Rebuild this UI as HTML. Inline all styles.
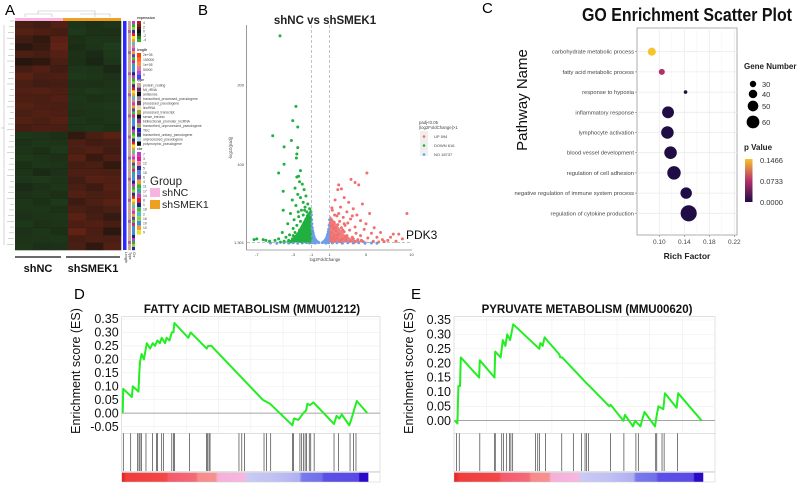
<!DOCTYPE html>
<html><head><meta charset="utf-8">
<style>
html,body{margin:0;padding:0;background:#fff;}
svg{display:block;font-family:"Liberation Sans",Arial,sans-serif;}
</style></head>
<body>
<svg id="fig" width="800" height="483" viewBox="0 0 800 483" xmlns="http://www.w3.org/2000/svg">
<text x="5" y="15" font-size="15">A</text>
<text x="198" y="15" font-size="15">B</text>
<text x="482" y="13" font-size="15">C</text>
<text x="74" y="299" font-size="15">D</text>
<text x="411" y="299" font-size="15">E</text>

<g id="panelA"></g>
<g id="panelB"></g>
<g id="panelC"></g>
<g id="panelD"></g>
<g id="panelE"></g>
</svg>
<script>
const NS="http://www.w3.org/2000/svg";
function mk(parent,tag,attrs,text){const e=document.createElementNS(NS,tag);for(const k in attrs)e.setAttribute(k,attrs[k]);if(text!==undefined)e.textContent=text;parent.appendChild(e);return e;}

/* ================= Panel A data ================= */
const heatSamples=["shNC-1","shNC-2","shNC-3","shSMEK1-1","shSMEK1-2","shSMEK1-3"];
const heatValues=[
[1.2,1.0,1.4,-1.2,-1.0,-1.3],[1.5,1.3,1.1,-1.4,-1.1,-1.0],[1.0,0.6,1.6,-1.0,-1.3,-1.2],[0.4,0.8,1.8,-0.9,-1.2,-1.5],
[1.3,1.1,1.5,-1.1,-0.8,-1.4],[0.3,0.5,1.2,-1.0,-0.6,-1.3],[1.1,1.4,1.0,-1.3,-1.2,-0.7],[1.6,1.2,1.3,-1.4,-1.3,-1.1],
[1.2,1.0,1.1,-1.1,-1.0,-1.2],[1.4,1.5,1.3,-1.2,-1.4,-1.3],[1.3,1.2,1.4,-1.3,-1.1,-1.2],[1.5,1.3,1.2,-1.2,-1.3,-1.4],
[1.2,1.4,1.3,-1.1,-1.2,-1.3],[1.4,1.2,1.5,-1.3,-1.1,-1.2],[1.1,1.3,1.2,-1.2,-1.3,-1.1],
[-1.3,-1.2,-1.0,0.6,1.2,1.6],[-1.1,-1.3,-1.2,1.3,1.0,1.1],[-1.2,-1.0,-1.4,1.2,1.4,1.0],[-1.4,-1.2,-1.1,1.5,0.8,1.3],
[-1.0,-1.3,-1.2,1.1,1.2,0.6],[-1.2,-0.8,-1.1,1.3,1.3,1.2],[-1.3,-1.4,-1.2,1.0,1.5,1.4],[-0.8,-1.1,-1.3,1.2,0.9,1.5],
[-1.1,-1.2,-1.0,1.4,1.2,1.3],[-1.3,-1.0,-1.4,0.9,1.3,1.6],[-1.2,-1.3,-1.1,1.2,1.0,1.2],[-1.0,-1.2,-1.3,1.6,1.1,0.7],
[-1.4,-1.1,-1.2,1.3,1.4,1.1],[-1.1,-1.3,-1.0,1.8,1.2,0.4],[-1.2,-1.2,-1.3,1.1,1.3,1.2],[-1.3,-1.0,-1.1,1.2,0.5,1.4]
];
const chrColors=["#c63ac6","#e01a8a","#f07aa0","#2a2a90","#4a8ae0","#6a3aa0","#e8a030","#30b030","#3aa0a0","#c040c0","#e02020","#202080","#40c040","#50c0c0","#8ad040","#4090e0","#f0a020","#f0e020"];
const chrLabels=["7","3","12","5","15","6","4","11","17","14","8","1","18","2","16","19","10","9"];
const typeColors=["#c8a89a","#6a2a6a","#101010","#a08aa0","#5a3a5a","#f0d8a0","#a0a030","#101010","#a030a0","#a0a050","#2020d0","#30307a","#a0e0f0","#101010"];
const typeLabels=["protein_coding","Mt_rRNA","antisense","transcribed_processed_pseudogene","processed_pseudogene","lincRNA","processed_transcript","sense_intronic","bidirectional_promoter_lncRNA","transcribed_unprocessed_pseudogene","TEC","transcribed_unitary_pseudogene","unprocessed_pseudogene","polymorphic_pseudogene"];

(function(){
const g=document.getElementById('panelA');
const x0=15,x1=121,y0=21,y1=250;
const cw=(x1-x0)/heatSamples.length, rh=(y1-y0)/heatValues.length;
function col(v){const t=Math.max(-2,Math.min(2,v))/2;
 if(t>=0){return `rgb(${Math.round(26+t*78)},${Math.round(20+t*16)},${Math.round(14+t*8)})`;}
 const s=-t;return `rgb(${Math.round(24+s*8)},${Math.round(24+s*46)},${Math.round(16+s*14)})`;}
heatValues.forEach((row,i)=>row.forEach((v,j)=>{
 const r=mk(g,'rect',{x:x0+j*cw,y:y0+i*rh,width:cw+0.3,height:rh+0.3,fill:col(v)});
 
 
}));
for(let i=0;i<heatValues.length;i+=2){mk(g,'line',{x1:x0,x2:x1,y1:y0+i*rh,y2:y0+i*rh,stroke:'#000',"stroke-opacity":0.15,"stroke-width":0.5});}
const gb1=mk(g,'rect',{x:x0,y:18,width:48,height:3,fill:'#f8b4e0'});
const gb2=mk(g,'rect',{x:63,y:18,width:58,height:3,fill:'#f0a020'});
mk(g,'path',{d:'M25 17 V14 H52 V17 M38 14 V11 H95 V17 M80 14 V14 H110 V17 M95 14 V11',stroke:'#bbb',fill:'none','stroke-width':0.6});
let d='';for(let i=0;i<40;i++){const y=y0+i*(y1-y0)/40;d+=`M14 ${y} H${10-(i%4)}`;}
d+='M4 25 V245 M4 128 H1';
mk(g,'path',{d:d,stroke:'#aaa',fill:'none','stroke-width':0.5});
const ab=mk(g,'rect',{x:123,y:y0,width:3.5,height:y1-y0,fill:'#2a2aff'});
for(let i=0;i<76;i++){const y=y0+i*(y1-y0)/76;
 mk(g,'rect',{x:128,y:y,width:3,height:(y1-y0)/76+0.2,fill:(i%7==3?'#a06aa0':'#c8a89a')});
 mk(g,'rect',{x:132,y:y,width:3,height:(y1-y0)/76+0.2,fill:chrColors[(i*7)%chrColors.length]});}
const small=(x,y,t,bold)=>mk(g,'text',{x:x,y:y,'font-size':3.4,fill:'#444','font-weight':bold?'bold':'normal'},t);
small(137,19,'expression',true);
const exCols=['#b02010','#802010','#401810','#101010','#1a3a14','#2a7a20','#30b020'];
for(let i=0;i<7;i++)mk(g,'rect',{x:137,y:21+i*3,width:4,height:3.1,fill:exCols[i]});
['4','2','0','-2','-4'].forEach((t,i)=>small(143,24+i*4.3,t));
small(137,51,'length',true);
const lnCols=['#ff4000','#ff6a20','#ff8a40','#e070a0','#b050d0','#4040ff'];
for(let i=0;i<6;i++)mk(g,'rect',{x:137,y:53+i*4.4,width:4,height:4.5,fill:lnCols[i]});
['2e+05','150000','1e+05','50000','0'].forEach((t,i)=>small(143,56+i*5,t));
small(137,81,'type',true);
typeLabels.forEach((t,i)=>{mk(g,'rect',{x:137,y:83+i*4.5,width:4,height:4.3,fill:typeColors[i]});small(143,86.5+i*4.5,t);});
small(137,150,'chr',true);
chrLabels.forEach((t,i)=>{mk(g,'rect',{x:137,y:152+i*4.6,width:4,height:4.5,fill:chrColors[i]});small(143,155.5+i*4.6,t);});
mk(g,'text',{x:150,y:185,'font-size':11.5,fill:'#222'},'Group');
const l1=mk(g,'rect',{x:150,y:188,width:10,height:9,fill:'#f8b4e0'});
mk(g,'text',{x:162,y:196,'font-size':10.5,fill:'#222'},'shNC');
const l2=mk(g,'rect',{x:150,y:200,width:10,height:9,fill:'#f0a020'});
mk(g,'text',{x:162,y:208,'font-size':10.5,fill:'#222'},'shSMEK1');
['Length','Type','Chr'].forEach((t,i)=>{mk(g,'text',{'font-size':3.5,fill:'#333',transform:`translate(${125+i*4},252) rotate(90)`},t);});
mk(g,'line',{x1:15,x2:61,y1:257,y2:257,stroke:'#111','stroke-width':1.3});
mk(g,'line',{x1:66,x2:120,y1:257,y2:257,stroke:'#111','stroke-width':1.3});
mk(g,'text',{x:38,y:272,'font-size':11,'font-weight':'bold','text-anchor':'middle',fill:'#111'},'shNC');
mk(g,'text',{x:93,y:272,'font-size':11,'font-weight':'bold','text-anchor':'middle',fill:'#111'},'shSMEK1');
})();

/* ================= Panel B data ================= */
const downPoints=[[-4.45,262],[-2.7,173],[-3.05,155],[-2.5,147],[-5.25,136],[-4.0,122],[-2.5,121],[-3.2,130],[-2.6,113],[-2.65,108],
[-4.0,100],[-2.2,92],[-4.6,89],[-2.6,84],[-2.4,85],[-4.1,66],[-4.1,42],[-7.0,6],[-7.3,5],[-6.3,5],[-6.0,4],[-5.6,3],
[-2.3,78],[-2.0,75],[-2.8,70],[-1.8,68],[-2.5,62],[-1.6,60],[-2.2,58],[-3.1,55],[-1.9,52],[-1.4,50],[-2.7,48],[-1.7,46],
[-1.2,44],[-2.1,42],[-1.5,40],[-3.3,38],[-1.3,37],[-1.9,36],[-2.4,34],[-1.1,33],[-1.6,31],[-2.9,30],[-1.4,29],[-2.2,28],
[-1.2,27],[-1.8,26],[-3.6,25],[-1.5,24],[-2.6,23],[-1.1,22],[-2.0,21],[-1.3,20],[-3.0,19],[-1.7,18],[-2.3,17],[-1.2,16],
[-1.5,15],[-4.2,14],[-2.8,14],[-1.9,13],[-1.1,12],[-3.4,11],[-2.1,11],[-1.4,10],[-1.6,9],[-2.5,9],[-3.8,8],[-1.2,8],
[-2.0,7],[-4.6,6],[-3.1,6],[-1.3,6],[-1.8,5],[-2.7,5],[-5.0,4],[-3.5,4],[-1.5,4],[-2.3,3],[-4.0,3],[-1.1,3],[-2.9,2.5],
[-1.7,2.2],[-3.3,2],[-1.25,2],[-2.05,1.8],[-4.4,1.8],[-1.45,35],[-1.05,40],[-1.75,42],[-2.45,40],[-1.15,30],[-1.35,26],
[-1.55,21],[-1.25,18],[-1.05,15],[-2.15,15],[-1.85,10],[-1.05,7],[-2.45,7],[-1.65,12],[-3.0,10],[-1.35,13]];
const upPoints=[[2.0,74],[2.3,69],[1.9,68],[3.35,81],[3.8,77],[4.2,74],[5.1,89],[5.4,38],[9.5,38],[8.6,12],[8.0,12],
[2.6,58],[3.1,52],[1.6,55],[4.6,50],[2.2,46],[3.6,44],[1.3,42],[2.9,40],[4.0,36],[1.8,35],[2.5,33],[3.3,31],[1.2,30],
[4.4,29],[2.1,28],[1.5,27],[3.0,26],[5.0,25],[1.9,24],[2.7,23],[1.1,22],[3.8,21],[2.3,20],[1.4,19],[4.8,18],[3.2,17],
[1.7,16],[2.6,15],[1.2,14],[5.6,13],[3.9,13],[2.0,12],[1.5,11],[4.4,10],[2.9,10],[1.1,9],[6.2,8],[3.5,8],[1.8,7],
[5.2,7],[2.4,6],[1.3,6],[6.8,5],[4.1,5],[2.8,4],[1.6,4],[7.4,4],[5.8,3],[3.3,3],[1.2,3],[7.0,2.5],[4.7,2.5],[2.2,2.2],
[6.4,2],[3.8,2],[1.4,2],[8.3,3],[9.0,6],[7.7,8],[6.6,14],[5.9,20],[1.25,45],[1.55,36],[1.05,26],[1.35,23],[1.65,20],
[2.45,17],[1.05,13],[1.85,11],[2.75,8],[1.45,8],[3.6,6],[2.1,4],[4.5,4],[1.1,5],[2.6,25],[3.5,35],[2.0,38]];
const nsPoints=[[-1.0,36],[-0.98,30],[-0.95,25],[-0.9,20],[-0.85,16],[-0.8,13],[-0.75,10],[-0.7,8],[-0.6,6],[-0.5,4],[-0.4,2.8],
[-0.3,1.8],[-0.2,1.2],[0.2,1.2],[0.3,1.8],[0.4,2.8],[0.5,4],[0.6,6],[0.7,8],[0.75,10],[0.8,12],[0.85,15],[0.9,18],[0.95,23],
[1.0,30],[-1.0,20],[-0.95,12],[-0.9,8],[-0.85,5],[0.9,10],[0.95,6],[1.0,12],[-1.0,8],[1.0,4],
[-5.5,0.8],[-4.8,0.5],[-4.0,1.0],[-3.5,0.6],[-3.0,1.1],[-2.5,0.4],[-2.0,0.9],[-1.5,1.2],[-1.2,0.7],[1.3,0.8],[1.8,1.1],
[2.4,0.5],[3.0,1.0],[3.6,0.7],[4.2,1.0],[4.9,0.5],[5.6,0.8],[6.2,0.4],[-0.9,1],[0.9,1],[-0.6,0.6],[0.6,0.6]];

(function(){
const g=document.getElementById('panelB');
const X=v=>320.5+v*9.1, Y=v=>243.6-v*0.793;
mk(g,'text',{x:325,y:24,'font-size':11.5,'font-weight':'bold','text-anchor':'middle',fill:'#222'},'shNC vs shSMEK1');
mk(g,'line',{x1:246.5,x2:246.5,y1:25,y2:250,stroke:'#555','stroke-width':0.6});
mk(g,'line',{x1:246.5,x2:412,y1:250,y2:250,stroke:'#555','stroke-width':0.6});
const ns=mk(g,'path',{d:`M${X(-1)} ${Y(36)} L${X(-0.7)} ${Y(8)} L${X(0)} ${Y(0)} L${X(0.7)} ${Y(8)} L${X(1)} ${Y(30)} L${X(1)} ${Y(0)} L${X(-1)} ${Y(0)} Z`,fill:'#6a9ef0'});

const dn=mk(g,'path',{d:`M${X(-1)} ${Y(45)} L${X(-1.8)} ${Y(30)} L${X(-2.5)} ${Y(15)} L${X(-3.2)} ${Y(5)} L${X(-4)} ${Y(1.5)} L${X(-1)} ${Y(1.5)} Z`,fill:'#20b040'});

const up=mk(g,'path',{d:`M${X(1)} ${Y(36)} L${X(1.8)} ${Y(24)} L${X(2.6)} ${Y(12)} L${X(3.6)} ${Y(5)} L${X(5.5)} ${Y(1.5)} L${X(1)} ${Y(1.5)} Z`,fill:'#f08080'});

nsPoints.forEach(p=>{const c=mk(g,'circle',{cx:X(p[0]),cy:Y(p[1]),r:1.5,fill:'#6a9ef0'});});
downPoints.forEach(p=>{const c=mk(g,'circle',{cx:X(p[0]),cy:Y(p[1]),r:1.5,fill:'#20b040'});});
upPoints.forEach(p=>{const c=mk(g,'circle',{cx:X(p[0]),cy:Y(p[1]),r:1.5,fill:'#f07070'});});
[-1,1].forEach(v=>mk(g,'line',{x1:X(v),x2:X(v),y1:25,y2:250,stroke:'#999','stroke-dasharray':'3,2','stroke-width':0.6}));
mk(g,'line',{x1:247,x2:412,y1:Y(1.301),y2:Y(1.301),stroke:'#999','stroke-dasharray':'3,2','stroke-width':0.6});
[[200,'200'],[100,'100'],[1.301,'1.301']].forEach(t=>mk(g,'text',{x:244,y:Y(t[0])+1.5,'font-size':4,'text-anchor':'end',fill:'#444'},t[1]));
[-7,-3,-1,1,5,10].forEach(v=>mk(g,'text',{x:X(v),y:256,'font-size':4,'text-anchor':'middle',fill:'#444'},String(v)));
mk(g,'text',{x:325,y:261,'font-size':4.2,'text-anchor':'middle',fill:'#444'},'log2FoldChange');
mk(g,'text',{'font-size':4.2,'text-anchor':'middle',fill:'#444',transform:'translate(232,148) rotate(-90)'},'-log10(padj)');
mk(g,'text',{x:419,y:124,'font-size':4.3,fill:'#444'},'padj<0.05');
mk(g,'text',{x:419,y:129,'font-size':4.3,fill:'#444'},'|log2FoldChange|>1');
mk(g,'rect',{x:420,y:131,width:8,height:25,fill:'#eee'});
[['#f07070','UP 594'],['#20b040','DOWN 616'],['#6a9ef0','NO 18737']].forEach((e,i)=>{
 const c=mk(g,'circle',{cx:424,cy:136.5+i*9,r:1.3,fill:e[0]});
 mk(g,'text',{x:434,y:138+i*9,'font-size':4,fill:'#444'},e[1]);});
mk(g,'text',{x:406,y:239,'font-size':12,fill:'#111'},'PDK3');
})();

/* ================= Panel C data ================= */
const goTerms=["carbohydrate metabolic process","fatty acid metabolic process","response to hypoxia","inflammatory response","lymphocyte activation","blood vessel development","regulation of cell adhesion","negative regulation of immune system process","regulation of cytokine production"];
const goRichFactor=[0.088,0.104,0.142,0.114,0.113,0.118,0.1235,0.143,0.147];
const goGeneNumber=[36,27,16,53,56,56,60,51,72];
const goPValue=[0.1466,0.07,0.002,0.001,0.001,0.001,0.001,0.001,0.001];
const goXTicks=[0.10,0.14,0.18,0.22];
const goSizeLegend=[30,40,50,60];

(function(){
const g=document.getElementById('panelC');
const px0=637,px1=737,py0=28,py1=235;
const X=v=>659.3+(v-0.10)*625;
const rowY=i=>51.7+i*20.2;
const R=n=>n*0.112;
function pc(p){const t=Math.max(0,Math.min(1,p/0.1466));
 const a=[30,12,70],b=[183,49,106],c=[246,196,44];
 let s,e,u;if(t<0.5){s=a;e=b;u=t*2;}else{s=b;e=c;u=(t-0.5)*2;}
 return `rgb(${Math.round(s[0]+(e[0]-s[0])*u)},${Math.round(s[1]+(e[1]-s[1])*u)},${Math.round(s[2]+(e[2]-s[2])*u)})`;}
mk(g,'text',{x:582,y:21,'font-size':18,'font-weight':'bold',fill:'#111',textLength:210,lengthAdjust:'spacingAndGlyphs'},'GO Enrichment Scatter Plot');
mk(g,'rect',{x:px0,y:py0,width:px1-px0,height:py1-py0,fill:'#fff',stroke:'#999','stroke-width':0.8});
goXTicks.forEach(v=>mk(g,'line',{x1:X(v),x2:X(v),y1:py0,y2:py1,stroke:'#ebebeb','stroke-width':0.8}));
[0.12,0.16,0.20].forEach(v=>mk(g,'line',{x1:X(v),x2:X(v),y1:py0,y2:py1,stroke:'#f4f4f4','stroke-width':0.5}));
goTerms.forEach((t,i)=>{
 mk(g,'line',{x1:px0,x2:px1,y1:rowY(i),y2:rowY(i),stroke:'#ebebeb','stroke-width':0.8});
 mk(g,'line',{x1:px0-2,x2:px0,y1:rowY(i),y2:rowY(i),stroke:'#666','stroke-width':0.5});
 mk(g,'text',{x:px0-3,y:rowY(i)+2,'font-size':5.8,'text-anchor':'end',fill:'#444'},t);
});
goTerms.forEach((t,i)=>{
 const c=mk(g,'circle',{cx:X(goRichFactor[i]),cy:rowY(i),r:R(goGeneNumber[i]),fill:pc(goPValue[i])});
 
 
});
goXTicks.forEach(v=>{mk(g,'line',{x1:X(v),x2:X(v),y1:py1,y2:py1+2,stroke:'#666','stroke-width':0.5});
 mk(g,'text',{x:X(v),y:py1+9,'font-size':6.5,'text-anchor':'middle',fill:'#444'},v.toFixed(2));});
mk(g,'text',{x:687,y:259,'font-size':8.5,'font-weight':'bold','text-anchor':'middle',fill:'#222'},'Rich Factor');
mk(g,'text',{'font-size':15,'text-anchor':'middle',fill:'#111',transform:'translate(527,100) rotate(-90)'},'Pathway Name');
mk(g,'text',{x:744,y:69,'font-size':8,'font-weight':'bold',fill:'#222'},'Gene Number');
const ly=[84,94,106,122];
goSizeLegend.forEach((n,i)=>{const c=mk(g,'circle',{cx:753,cy:ly[i],r:R(n)*0.95,fill:'#000'});
 mk(g,'text',{x:762,y:ly[i]+3,'font-size':7.5,fill:'#333'},String(n));});
mk(g,'text',{x:744,y:150,'font-size':8,'font-weight':'bold',fill:'#222'},'p Value');
const gr=mk(g,'defs',{});const lg=mk(gr,'linearGradient',{id:'pgrad',x1:0,y1:0,x2:0,y2:1});
mk(lg,'stop',{offset:'0','stop-color':'#f6c42c'});mk(lg,'stop',{offset:'0.5','stop-color':'#b7316a'});mk(lg,'stop',{offset:'1','stop-color':'#1e0c46'});
const cb=mk(g,'rect',{x:745,y:159,width:7.5,height:43,fill:'url(#pgrad)'});
[['0.1466',163],['0.0733',184],['0.0000',205]].forEach(t=>mk(g,'text',{x:760,y:t[1],'font-size':7.5,fill:'#333'},t[0]));
})();

/* ================= Panels D & E data ================= */
const esYTicksD=[0.35,0.30,0.25,0.20,0.15,0.10,0.05,0.00,-0.05];
const esYTicksE=[0.35,0.30,0.25,0.20,0.15,0.10,0.05,0.00];
const fattyRank=[0.4,0.6,3.9,4.3,6.5,6.8,7.1,7.7,8.6,9.7,11.0,12.0,12.9,13.8,14.8,15.5,16.8,17.4,18.5,19.4,20.0,20.4,25.8,26.7,32.9,33.5,34.8,35.7,54.6,57.4,66.1,66.7,68.4,70.3,71.4,71.9,72.9,74.2,82.2,83.2,84.3,85.2,88.1,89.0,89.9,91.0,95.1];
const fattyES=[0,0.09,0.06,0.10,0.08,0.15,0.19,0.22,0.20,0.26,0.24,0.26,0.25,0.27,0.26,0.28,0.26,0.28,0.27,0.30,0.30,0.335,0.28,0.30,0.24,0.25,0.25,0.24,0.05,0.035,-0.045,-0.02,-0.025,0.0,0.01,0.035,0.03,0.04,-0.04,-0.01,-0.02,-0.005,-0.045,-0.02,0.01,0.045,0];
const fattyHits=[0.6,3.5,6.2,6.7,7.1,7.7,9.4,11.9,13.5,13.9,15.5,16.1,19.4,20.0,20.4,26.2,32.9,33.3,33.8,34.2,45.4,46.5,47.5,55.1,56.1,57.7,66.1,66.5,69.0,69.7,70.3,71.0,71.6,72.6,73.2,74.5,82.2,83.9,88.4,89.7,90.7];
const pyrRank=[0.4,1.3,1.7,2.3,2.6,9.6,9.9,15.5,15.8,17.9,18.7,19.7,20.4,21.5,22.7,32.7,33.1,34.0,34.7,35.6,40.4,40.7,41.4,42.5,50.8,51.9,59.5,60.0,64.9,65.5,68.6,69.4,71.4,72.0,73.0,77.0,77.7,78.3,80.2,80.8,85.3,85.9,94.9];
const pyrES=[0,-0.01,0.12,0.12,0.22,0.15,0.21,0.15,0.24,0.22,0.28,0.26,0.30,0.28,0.335,0.25,0.27,0.26,0.29,0.28,0.23,0.22,0.22,0.21,0.13,0.12,0.05,0.055,0.00,0.02,-0.02,0.00,-0.02,0.00,0.03,-0.02,0.02,0.05,0.04,0.095,0.045,0.095,0];
const pyrHits=[1.0,2.0,9.9,15.6,15.8,18.3,18.9,20.2,21.2,21.8,22.5,31.2,32.1,32.7,35.1,41.3,45.7,48.9,50.2,50.8,51.5,60.0,65.1,69.7,70.6,77.3,77.7,79.7,80.5,85.6];

function gsea(gid,title,px0,px1,plotTop,yTop,yUnit,yTicks,rank,es,hits,titleX,ylabX){
 const g=document.getElementById(gid);
 const zeroY=yTop+0.35*yUnit;
 const Y=v=>yTop+(0.35-v)*yUnit;
 const X=r=>px0+(px1-px0)*r/100;
 const plotBot=433.3, hitBot=471.5;
 mk(g,'text',{x:titleX,y:313,'font-size':11.5,'font-weight':'bold','text-anchor':'middle',fill:'#111'},title);
 mk(g,'rect',{x:px0,y:plotTop,width:px1-px0,height:plotBot-plotTop,fill:'#fff',stroke:'#ccc','stroke-width':0.6});
 for(let i=1;i<8;i++){const x=px0+(px1-px0)*i/8;mk(g,'line',{x1:x,x2:x,y1:plotTop,y2:plotBot,stroke:'#eee','stroke-width':0.6});}
 yTicks.forEach(v=>{mk(g,'line',{x1:px0,x2:px1,y1:Y(v),y2:Y(v),stroke:'#eee','stroke-width':0.6});
  mk(g,'text',{x:px0-3,y:Y(v)+4.2,'font-size':12.5,'text-anchor':'end',fill:'#111'},v.toFixed(2));});
 mk(g,'line',{x1:px0,x2:px1,y1:zeroY,y2:zeroY,stroke:'#888','stroke-width':0.8});
 mk(g,'text',{'font-size':12.5,'text-anchor':'middle',fill:'#111',transform:`translate(${ylabX},371) rotate(-90)`},'Enrichment score (ES)');
 let d='';rank.forEach((r,i)=>{d+=(i?'L':'M')+X(r).toFixed(1)+' '+Y(es[i]).toFixed(1);});
 const ln=mk(g,'path',{d:d,fill:'none',stroke:'#22ee22','stroke-width':2,'stroke-linejoin':'round'});
 
 
 mk(g,'rect',{x:px0,y:plotBot,width:px1-px0,height:hitBot-plotBot,fill:'#fff',stroke:'#ccc','stroke-width':0.6});
 hits.forEach(h=>{const l=mk(g,'line',{x1:X(h),x2:X(h),y1:plotBot,y2:hitBot-0.5,stroke:'#222','stroke-width':0.6});
  
  });
 const gid2=gid+'grad';const df=mk(g,'defs',{});const lg=mk(df,'linearGradient',{id:gid2,x1:0,y1:0,x2:1,y2:0});
 [[0,'#e41c1c'],[0.02,'#f03c3c'],[0.18,'#f24848'],[0.19,'#f45a6a'],[0.3,'#f46a78'],[0.31,'#f88a8a'],[0.38,'#f89090'],[0.39,'#f5b0d8'],[0.5,'#f5b8e0'],[0.51,'#cacaf5'],[0.62,'#c0c0f4'],[0.72,'#b0b0f2'],[0.73,'#7a7aec'],[0.81,'#7070ea'],[0.82,'#5a50e6'],[0.96,'#5a4ae4'],[0.965,'#2a0ac8'],[1,'#2a0ac8']].forEach(s=>mk(lg,'stop',{offset:s[0],'stop-color':s[1]}));
 const cb=mk(g,'rect',{x:px0,y:hitBot+1,width:(px1-px0)*0.955,height:9.5,fill:`url(#${gid2})`});
 
 mk(g,'rect',{x:px0,y:hitBot+1,width:px1-px0,height:9.5,fill:'none',stroke:'#ccc','stroke-width':0.5});
}
gsea('panelD','FATTY ACID METABOLISM (MMU01212)',121.7,380,316.7,319,269,esYTicksD,fattyRank,fattyES,fattyHits,252,80);
gsea('panelE','PYRUVATE METABOLISM (MMU00620)',454,715,316.7,320,287.6,esYTicksE,pyrRank,pyrES,pyrHits,587,413);
</script>
</body></html>
